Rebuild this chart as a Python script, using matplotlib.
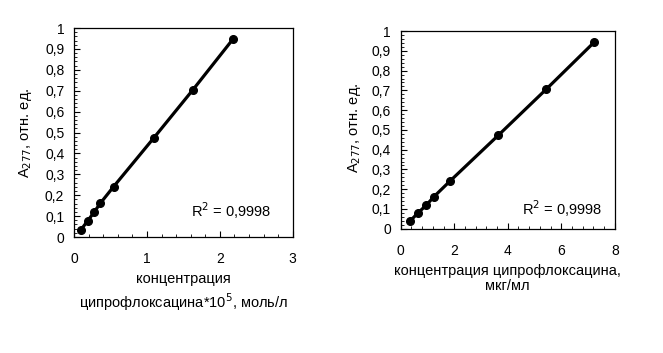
import matplotlib.pyplot as plt
from matplotlib.ticker import MultipleLocator, FuncFormatter

plt.rcParams['font.family'] = ['Liberation Sans', 'DejaVu Sans']
plt.rcParams['font.size'] = 10

# calibration data
conc_mol = [0.096, 0.187, 0.278, 0.36, 0.543, 1.094, 1.632, 2.18]
conc_mkg = [0.35, 0.63, 0.96, 1.24, 1.84, 3.64, 5.43, 7.23]
absorb_mol = [0.035, 0.077, 0.12, 0.161, 0.241, 0.474, 0.705, 0.947]
absorb_mkg = [0.039, 0.078, 0.12, 0.162, 0.241, 0.472, 0.705, 0.944]
r2_text = 'R$^2$ = 0,9998'
ylab = 'A$_{277}$, отн. ед.'

def comma(v, pos):
    s = '%g' % round(v, 2)
    return s.replace('.', ',')

fig = plt.figure(figsize=(6.63, 3.53), dpi=100)
ax1 = fig.add_axes([0.1116, 0.3286, 0.330, 0.592])
ax2 = fig.add_axes([0.6044, 0.352, 0.323, 0.560])

def style(ax, xmax, xmaj, xmin):
    ax.set_xlim(0, xmax)
    ax.set_ylim(0, 1)
    ax.xaxis.set_major_locator(MultipleLocator(xmaj))
    ax.xaxis.set_minor_locator(MultipleLocator(xmin))
    ax.yaxis.set_major_locator(MultipleLocator(0.1))
    ax.yaxis.set_minor_locator(MultipleLocator(0.02))
    ax.yaxis.set_major_formatter(FuncFormatter(comma))
    ax.tick_params(which='both', direction='in', top=False, right=False)
    ax.tick_params(which='major', length=4)
    ax.tick_params(which='minor', length=2.5)
    ax.tick_params(axis='x', which='major', pad=11)
    ax.tick_params(axis='y', which='major', pad=7)
    for sp in ax.spines.values():
        sp.set_linewidth(0.9)

ax1.plot(conc_mol, absorb_mol, color='black', lw=2.3, marker='o', ms=5.5)
style(ax1, 3, 1, 0.2)
ax1.set_xlabel('концентрация\nципрофлоксацина*10$^5$, моль/л', linespacing=1.3, fontsize=10.5)
ax1.set_ylabel(ylab, fontsize=10.5)
ax1.yaxis.set_label_coords(-0.185, 0.5)
ax1.text(0.534, 0.124, r2_text, transform=ax1.transAxes, va='center', fontsize=10.5)

ax2.plot(conc_mkg, absorb_mkg, color='black', lw=2.3, marker='o', ms=5.5)
style(ax2, 8, 2, 0.4)
ax2.set_xlabel('концентрация ципрофлоксацина,\nмкг/мл', linespacing=1.15, fontsize=10.5)
ax2.set_ylabel(ylab, fontsize=10.5)
ax2.yaxis.set_label_coords(-0.178, 0.51)
ax2.text(0.565, 0.101, r2_text, transform=ax2.transAxes, va='center', fontsize=10.5)

plt.savefig('out.png', dpi=100)
